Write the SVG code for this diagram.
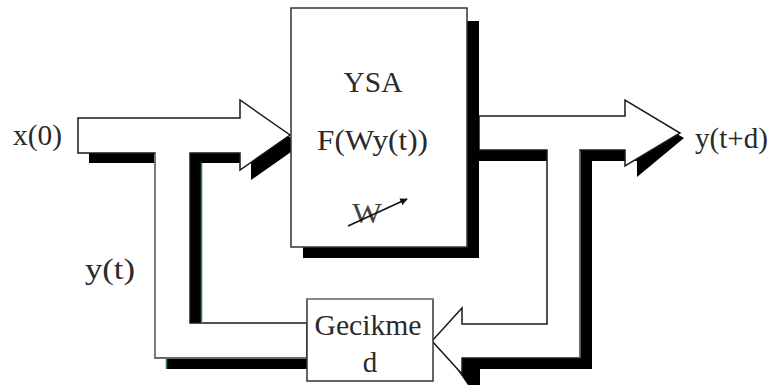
<svg xmlns="http://www.w3.org/2000/svg" width="772" height="385" viewBox="0 0 772 385">
  <defs>
    <style>
      .t { font-family: "Liberation Serif", "Times New Roman", serif; font-size: 29px; fill: #2a2a2a; }
      .shadow { fill: #000; stroke: none; }
      .pipe { fill: #fff; stroke: #1a1a1a; stroke-width: 1.5; stroke-linejoin: miter; }
      .box { fill: #fff; stroke: #333; stroke-width: 1.5; }
    </style>
    <marker id="ah" viewBox="0 0 10 10" refX="9" refY="5" markerWidth="5" markerHeight="5" orient="auto">
      <path d="M0,0 L10,5 L0,10 z" fill="#111"/>
    </marker>
  </defs>
  <rect width="772" height="385" fill="#fff"/>

  <g id="connectors">
    <!-- input arrow + left feedback pipe -->
    <polygon class="shadow" points="89,128 251,128 251,110 301,145 251,180 251,163 201,163 201,333 318,333 318,369 166,369 166,163 89,163"/>
    <polygon class="pipe" points="78,118 240,118 240,100 290,135 240,170 240,153 190,153 190,323 307,323 307,358 155,358 155,153 78,153"/>
    <line x1="155" y1="154" x2="155" y2="358" stroke="#7a7a7a" stroke-width="2"/>
    <line x1="155" y1="358" x2="307" y2="358" stroke="#6a6a6a" stroke-width="2"/>
    <line x1="201.5" y1="163" x2="201.5" y2="323" stroke="#1f7f7f" stroke-width="1.5"/>
    <line x1="166.5" y1="359" x2="166.5" y2="369" stroke="#1f7f7f" stroke-width="1.5"/>

    <!-- output arrow + right feedback pipe into delay -->
    <polygon class="shadow" points="479,127 637,127 637,111 684,138 637,177 637,161 592,161 592,369 480,369 480,385 468,385 452,362 452,335 559,335 559,161 479,161"/>
    <polygon class="pipe" points="479,116 625,116 625,100 680,133 625,166 625,150 580,150 580,358 462,358 462,374 432,341 462,308 462,324 547,324 547,150 479,150"/>
    <line x1="580" y1="151" x2="580" y2="358" stroke="#777" stroke-width="1.5"/>

    <text class="t" x="13" y="145" textLength="49" lengthAdjust="spacingAndGlyphs">x(0)</text>
    <text class="t" x="695" y="148" textLength="73" lengthAdjust="spacingAndGlyphs">y(t+d)</text>
    <text class="t" x="85" y="279" textLength="50" lengthAdjust="spacingAndGlyphs">y(t)</text>
  </g>

  <g id="ysa">
    <rect class="shadow" x="303" y="21" width="176" height="237"/>
    <rect class="box" x="291" y="8" width="176" height="239"/>
    <text class="t" x="373" y="92" text-anchor="middle" textLength="59" lengthAdjust="spacingAndGlyphs">YSA</text>
    <text class="t" x="372.5" y="150" text-anchor="middle" textLength="111" lengthAdjust="spacingAndGlyphs">F(Wy(t))</text>
    <text class="t" x="367" y="223" text-anchor="middle" fill="#444" style="fill:#444" textLength="30" lengthAdjust="spacingAndGlyphs">W</text>
    <line x1="348" y1="226" x2="407" y2="199" stroke="#111" stroke-width="1.5" marker-end="url(#ah)"/>
  </g>

  <g id="gecikme">
    <rect class="box" x="307" y="299" width="126" height="82"/>
    <line x1="307" y1="299" x2="433" y2="299" stroke="#888" stroke-width="2"/>
    <text class="t" x="368" y="335" text-anchor="middle" textLength="107" lengthAdjust="spacingAndGlyphs">Gecikme</text>
    <text class="t" x="370" y="372" text-anchor="middle">d</text>
  </g>
</svg>
